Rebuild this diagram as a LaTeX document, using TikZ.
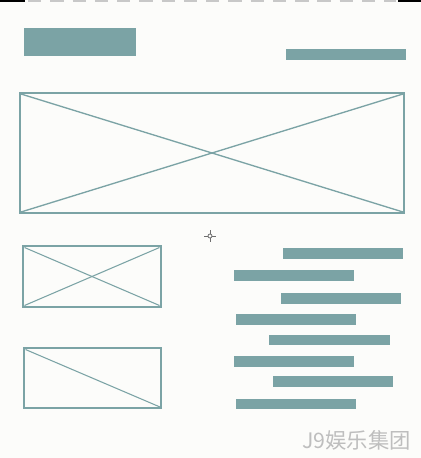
\documentclass[tikz,border=0pt]{standalone}
\usepackage{fontspec}
\newfontfamily\cjk{Noto Sans CJK SC}
\definecolor{teal1}{RGB}{123,163,165}
\definecolor{bg}{RGB}{252,252,250}
\definecolor{dashg}{RGB}{200,200,200}
\definecolor{cross}{RGB}{110,110,110}
\definecolor{wm}{RGB}{190,190,190}
\begin{document}
\begin{tikzpicture}[x=0.75pt,y=-0.75pt,
  bar/.style={fill=teal1},
  frame/.style={draw=teal1,line width=1.5pt},
  diag/.style={draw=teal1,line width=0.8pt}]
\fill[bg] (0,0) rectangle (421,458);
\useasboundingbox (0,0) rectangle (421,458);
% top strip
\fill[black] (0,0) rectangle (25,2);
\fill[black] (398,0) rectangle (421,2);
\draw[dashg,line width=1.5pt,dash pattern=on 10 off 6.7] (28,1) -- (396,1);
% header blocks
\fill[bar] (24,28) rectangle (136,56);
\fill[bar] (286,49) rectangle (406,60);
% big image placeholder
\draw[frame] (20,93) rectangle (404,213);
\draw[diag,line width=1pt] (21,94) -- (403,212);
\draw[diag,line width=1pt] (21,212) -- (403,94);
% crosshair
\draw[cross,line width=0.75pt] (204,236) -- (208,236) (212,236) -- (216,236)
  (210,230) -- (210,234) (210,238) -- (210,242);
\draw[cross,line width=0.6pt] (210,236) circle (2);
% small placeholder 1
\draw[frame] (23.3,246.3) rectangle (160.7,306.7);
\draw[diag] (24.5,247.5) -- (159.5,305.5);
\draw[diag] (24.5,305.5) -- (159.5,247.5);
% small placeholder 2
\draw[frame] (24.3,348.3) rectangle (161.3,408.3);
\draw[diag] (25.5,349.5) -- (160,407);
% text bars
\fill[bar] (283,248.3) rectangle (403,259);
\fill[bar] (234.3,270) rectangle (354.3,280.7);
\fill[bar] (281,293.3) rectangle (401,304.3);
\fill[bar] (236,314) rectangle (356,324.7);
\fill[bar] (269,335) rectangle (389.7,344.7);
\fill[bar] (234.3,356.3) rectangle (354.3,367);
\fill[bar] (273,376) rectangle (393,387);
\fill[bar] (236,399) rectangle (356,409);
% watermark
\node[anchor=west,inner sep=0pt,text=wm,font=\cjk\fontsize{16}{16}\selectfont] (wm) at (302,440) {J9娱乐集团};
\end{tikzpicture}
\end{document}
